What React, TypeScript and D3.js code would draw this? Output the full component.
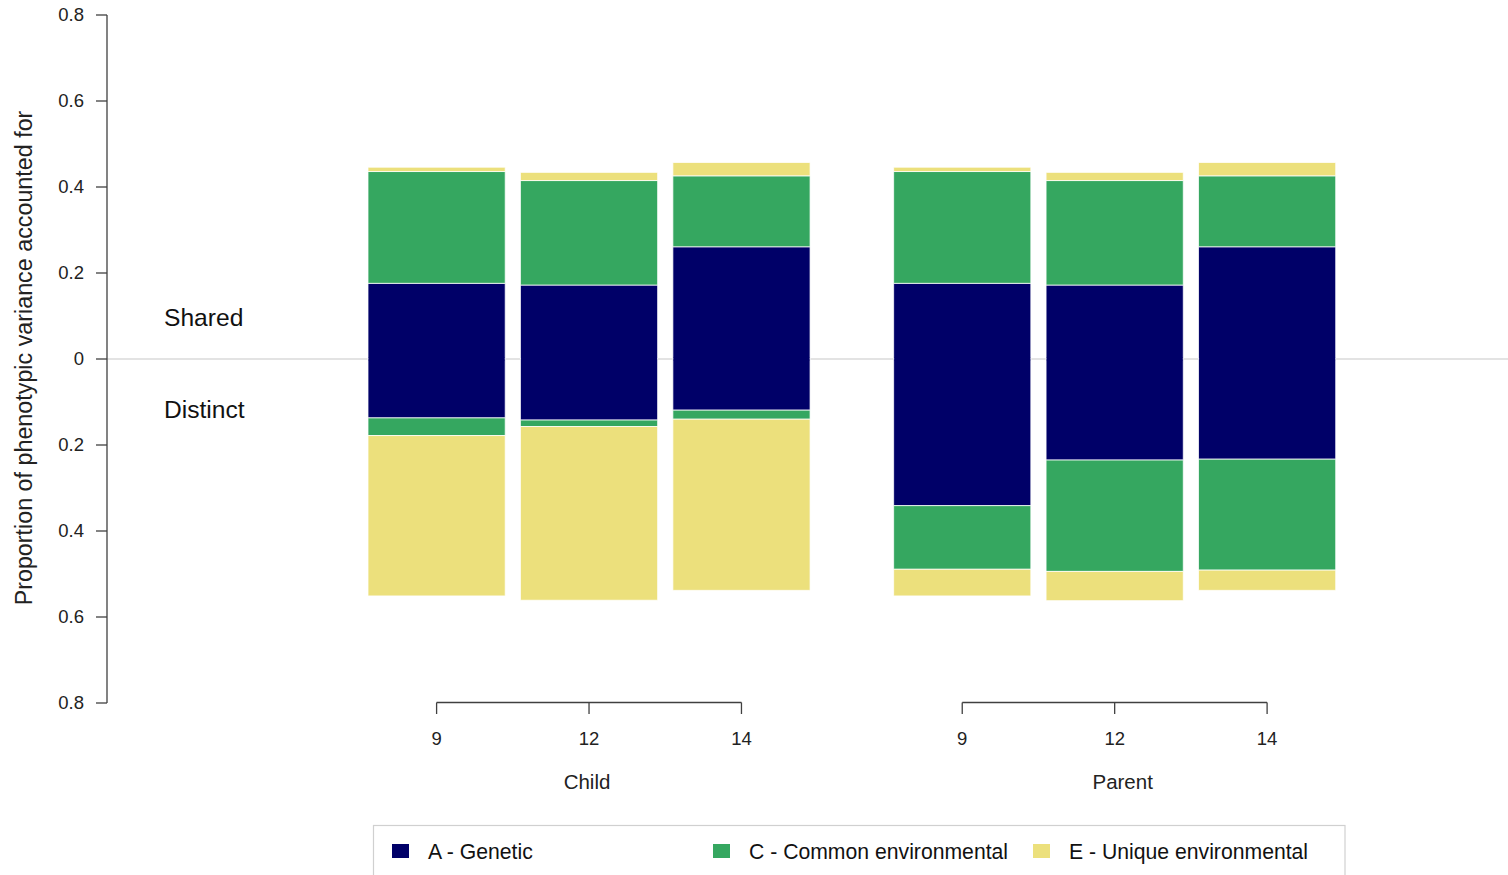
import React from "react";
import * as d3 from "d3";

// ---- data ----
const groups = ["Child", "Parent"];
const ages = ["9", "12", "14"];
const components = ["A", "C", "E"];
const componentLabels = ["A - Genetic", "C - Common environmental", "E - Unique environmental"];
const componentColors = ["#000068", "#35a760", "#ece07c"];

// shared (above zero) proportions per group, per age: [A, C, E]
const childShared = [
  [0.176, 0.26, 0.01],
  [0.172, 0.243, 0.019],
  [0.261, 0.165, 0.031],
];
const parentShared = [
  [0.176, 0.26, 0.01],
  [0.172, 0.243, 0.019],
  [0.261, 0.165, 0.031],
];
// distinct (below zero) proportions per age: [A, C, E]
const childDistinct = [
  [0.137, 0.041, 0.373],
  [0.142, 0.015, 0.404],
  [0.119, 0.021, 0.398],
];
const parentDistinct = [
  [0.341, 0.148, 0.062],
  [0.235, 0.259, 0.068],
  [0.233, 0.258, 0.047],
];
const yTicks = [-0.8, -0.6, -0.4, -0.2, 0, 0.2, 0.4, 0.6, 0.8];
const yTitle = "Proportion of phenotypic variance accounted for";

const W = 1508;
const H = 875;
const FONT = "'Liberation Sans', Arial, Helvetica, sans-serif";

export default function App() {
  const y = d3.scaleLinear().domain([-0.8, 0.8]).range([703, 15]);
  const outer = d3.scaleBand<string>().domain(groups).range([368, 1335.7]).paddingInner(0.159).paddingOuter(0);
  const inner = d3.scaleBand<string>().domain(ages).range([0, outer.bandwidth()]).paddingInner(0.1).paddingOuter(0);

  const sharedData: Record<string, number[][]> = { Child: childShared, Parent: parentShared };
  const distinctData: Record<string, number[][]> = { Child: childDistinct, Parent: parentDistinct };
  const labelDx: Record<string, number> = { Child: -2, Parent: 8 };

  const axisX = 107;
  const fmt = (v: number) => (v === 0 ? "0" : d3.format(".1f")(Math.abs(v)));

  const rects: React.ReactNode[] = [];
  groups.forEach((g) => {
    ages.forEach((a, ai) => {
      const x0 = (outer(g) as number) + (inner(a) as number);
      const bw = inner.bandwidth();
      // shared stacks upward
      let cum = 0;
      sharedData[g][ai].forEach((v, ci) => {
        const top = y(cum + v);
        const bot = y(cum);
        rects.push(
          <rect key={`s-${g}-${a}-${ci}`} x={x0} y={top} width={bw} height={bot - top}
            fill={componentColors[ci]} stroke="#ffffff" strokeOpacity={0.75} strokeWidth={1} />
        );
        cum += v;
      });
      // distinct stacks downward
      cum = 0;
      distinctData[g][ai].forEach((v, ci) => {
        const top = y(-cum);
        const bot = y(-(cum + v));
        rects.push(
          <rect key={`d-${g}-${a}-${ci}`} x={x0} y={top} width={bw} height={bot - top}
            fill={componentColors[ci]} stroke="#ffffff" strokeOpacity={0.75} strokeWidth={1} />
        );
        cum += v;
      });
      // hide the seam at zero between the shared and distinct genetic parts
      rects.push(
        <rect key={`seam-${g}-${a}`} x={x0 + 0.6} y={y(0) - 1.5} width={bw - 1.2} height={3}
          fill={componentColors[0]} />
      );
    });
  });

  const legendX = [392, 713, 1033];

  return (
    <svg width={W} height={H} style={{ position: "absolute", left: 0, top: 0, display: "block" }}
      fontFamily={FONT}>
      <rect x={0} y={0} width={W} height={H} fill="#ffffff" />

      {/* zero line */}
      <line x1={axisX} x2={W} y1={y(0)} y2={y(0)} stroke="#c8c8c8" strokeWidth={1.2} />

      {rects}

      {/* y axis */}
      <line x1={axisX} x2={axisX} y1={y(0.8)} y2={y(-0.8)} stroke="#404040" strokeWidth={1.3} />
      {yTicks.map((t) => (
        <g key={t}>
          <line x1={axisX - 11} x2={axisX} y1={y(t)} y2={y(t)} stroke="#404040" strokeWidth={1.3} />
          <text x={84} y={y(t)} dy="0.35em" textAnchor="end" fontSize={18.5} fill="#222">
            {fmt(t)}
          </text>
        </g>
      ))}
      <text transform={`translate(32, ${y(0) - 1}) rotate(-90)`} textAnchor="middle" fontSize={23.3} fill="#222">
        {yTitle}
      </text>

      <text x={164} y={326} fontSize={24.6} fill="#111">Shared</text>
      <text x={164} y={418} fontSize={24.6} fill="#111">Distinct</text>

      {/* bottom group axes */}
      {groups.map((g) => {
        const cx = (a: string) => (outer(g) as number) + (inner(a) as number) + inner.bandwidth() / 2;
        const first = cx(ages[0]);
        const last = cx(ages[ages.length - 1]);
        const mid = (outer(g) as number) + outer.bandwidth() / 2;
        return (
          <g key={g}>
            <line x1={first} x2={last} y1={702.5} y2={702.5} stroke="#404040" strokeWidth={1.3} />
            {ages.map((a) => (
              <g key={a}>
                <line x1={cx(a)} x2={cx(a)} y1={702.5} y2={714} stroke="#404040" strokeWidth={1.3} />
                <text x={cx(a)} y={745} textAnchor="middle" fontSize={18.5} fill="#222">{a}</text>
              </g>
            ))}
            <text x={mid + labelDx[g]} y={789} textAnchor="middle" fontSize={20.5} fill="#222">{g}</text>
          </g>
        );
      })}

      {/* legend */}
      <rect x={373.5} y={825.5} width={971.5} height={80} fill="none" stroke="#d0d0d0" strokeWidth={1.2} />
      {components.map((c, i) => (
        <g key={c}>
          <rect x={legendX[i]} y={844} width={17} height={14} fill={componentColors[i]} />
          <text x={legendX[i] + 36} y={858.5} fontSize={21.2} fill="#111">{componentLabels[i]}</text>
        </g>
      ))}
    </svg>
  );
}
